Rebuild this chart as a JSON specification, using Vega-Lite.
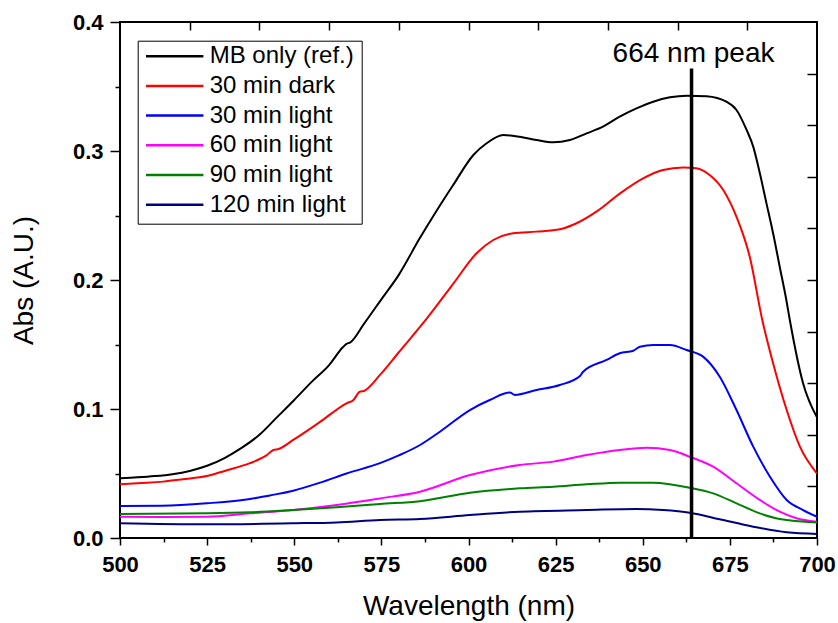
{
  "$schema": "https://vega.github.io/schema/vega-lite/v6.json",
  "width": 697,
  "height": 516,
  "autosize": {"type": "none"},
  "padding": {"left": 120, "top": 22, "right": 21, "bottom": 85},
  "background": "white",
  "config": {
    "view": {"stroke": "black", "strokeWidth": 2},
    "font": "Liberation Sans",
    "axis": {"domain": false, "grid": false, "tickColor": "black", "tickWidth": 1.5, "labelColor": "black", "titleColor": "black"}
  },
  "datasets": {
    "spectra": [
      {"s":"MB only (ref.)","w":500,"a":0.0463},{"s":"MB only (ref.)","w":505,"a":0.047},{"s":"MB only (ref.)","w":510,"a":0.048},{"s":"MB only (ref.)","w":515,"a":0.0495},{"s":"MB only (ref.)","w":520,"a":0.052},{"s":"MB only (ref.)","w":525,"a":0.056},{"s":"MB only (ref.)","w":530,"a":0.062},{"s":"MB only (ref.)","w":535,"a":0.07},{"s":"MB only (ref.)","w":540,"a":0.08},{"s":"MB only (ref.)","w":545,"a":0.0935},{"s":"MB only (ref.)","w":550,"a":0.107},{"s":"MB only (ref.)","w":555,"a":0.121},{"s":"MB only (ref.)","w":560,"a":0.134},{"s":"MB only (ref.)","w":564,"a":0.148},{"s":"MB only (ref.)","w":565,"a":0.1505},{"s":"MB only (ref.)","w":566,"a":0.1515},{"s":"MB only (ref.)","w":570,"a":0.166},{"s":"MB only (ref.)","w":575,"a":0.185},{"s":"MB only (ref.)","w":580,"a":0.204},{"s":"MB only (ref.)","w":586,"a":0.2323},{"s":"MB only (ref.)","w":590,"a":0.25},{"s":"MB only (ref.)","w":595.6,"a":0.2736},{"s":"MB only (ref.)","w":601.4,"a":0.2969},{"s":"MB only (ref.)","w":605.2,"a":0.306},{"s":"MB only (ref.)","w":610,"a":0.3124},{"s":"MB only (ref.)","w":614.7,"a":0.311},{"s":"MB only (ref.)","w":619.5,"a":0.3085},{"s":"MB only (ref.)","w":624.3,"a":0.3067},{"s":"MB only (ref.)","w":629.1,"a":0.3085},{"s":"MB only (ref.)","w":633.9,"a":0.3137},{"s":"MB only (ref.)","w":638.6,"a":0.3189},{"s":"MB only (ref.)","w":643.4,"a":0.3266},{"s":"MB only (ref.)","w":648.2,"a":0.333},{"s":"MB only (ref.)","w":653,"a":0.3382},{"s":"MB only (ref.)","w":657.8,"a":0.3416},{"s":"MB only (ref.)","w":662.6,"a":0.3429},{"s":"MB only (ref.)","w":668.3,"a":0.3424},{"s":"MB only (ref.)","w":674,"a":0.3382},{"s":"MB only (ref.)","w":676.9,"a":0.3318},{"s":"MB only (ref.)","w":679.8,"a":0.3163},{"s":"MB only (ref.)","w":681.7,"a":0.3034},{"s":"MB only (ref.)","w":683.6,"a":0.2827},{"s":"MB only (ref.)","w":685.5,"a":0.2594},{"s":"MB only (ref.)","w":687.4,"a":0.2362},{"s":"MB only (ref.)","w":689.3,"a":0.2103},{"s":"MB only (ref.)","w":691.2,"a":0.1845},{"s":"MB only (ref.)","w":692.2,"a":0.169},{"s":"MB only (ref.)","w":696,"a":0.12},{"s":"MB only (ref.)","w":700,"a":0.0935},
      {"s":"30 min dark","w":500,"a":0.0416},{"s":"30 min dark","w":505,"a":0.0425},{"s":"30 min dark","w":512.4,"a":0.0437},{"s":"30 min dark","w":518,"a":0.0455},{"s":"30 min dark","w":524.9,"a":0.048},{"s":"30 min dark","w":530,"a":0.052},{"s":"30 min dark","w":537.3,"a":0.058},{"s":"30 min dark","w":542,"a":0.064},{"s":"30 min dark","w":544,"a":0.0682},{"s":"30 min dark","w":545.5,"a":0.069},{"s":"30 min dark","w":549.7,"a":0.076},{"s":"30 min dark","w":557.4,"a":0.09},{"s":"30 min dark","w":565,"a":0.1044},{"s":"30 min dark","w":567,"a":0.107},{"s":"30 min dark","w":568.8,"a":0.1134},{"s":"30 min dark","w":570,"a":0.114},{"s":"30 min dark","w":574.6,"a":0.1264},{"s":"30 min dark","w":580,"a":0.144},{"s":"30 min dark","w":588,"a":0.17},{"s":"30 min dark","w":595.6,"a":0.197},{"s":"30 min dark","w":602.3,"a":0.2207},{"s":"30 min dark","w":607.1,"a":0.231},{"s":"30 min dark","w":612.8,"a":0.2362},{"s":"30 min dark","w":619.5,"a":0.2375},{"s":"30 min dark","w":626.2,"a":0.2393},{"s":"30 min dark","w":631,"a":0.244},{"s":"30 min dark","w":636.7,"a":0.253},{"s":"30 min dark","w":643.4,"a":0.267},{"s":"30 min dark","w":650.1,"a":0.2788},{"s":"30 min dark","w":655.8,"a":0.2853},{"s":"30 min dark","w":661.6,"a":0.2873},{"s":"30 min dark","w":665.4,"a":0.2866},{"s":"30 min dark","w":669.2,"a":0.2814},{"s":"30 min dark","w":673.1,"a":0.2698},{"s":"30 min dark","w":676.9,"a":0.249},{"s":"30 min dark","w":680.7,"a":0.218},{"s":"30 min dark","w":684.3,"a":0.169},{"s":"30 min dark","w":687.4,"a":0.1354},{"s":"30 min dark","w":691.3,"a":0.0992},{"s":"30 min dark","w":695.1,"a":0.0708},{"s":"30 min dark","w":700,"a":0.05},
      {"s":"30 min light","w":500,"a":0.0248},{"s":"30 min light","w":512,"a":0.025},{"s":"30 min light","w":524.9,"a":0.0269},{"s":"30 min light","w":537.3,"a":0.0302},{"s":"30 min light","w":543,"a":0.033},{"s":"30 min light","w":545,"a":0.034},{"s":"30 min light","w":549.7,"a":0.0367},{"s":"30 min light","w":557.4,"a":0.0429},{"s":"30 min light","w":565,"a":0.05},{"s":"30 min light","w":574.6,"a":0.058},{"s":"30 min light","w":580,"a":0.064},{"s":"30 min light","w":586.1,"a":0.0721},{"s":"30 min light","w":591.8,"a":0.0824},{"s":"30 min light","w":600.4,"a":0.0992},{"s":"30 min light","w":606.1,"a":0.107},{"s":"30 min light","w":611.9,"a":0.1127},{"s":"30 min light","w":613.3,"a":0.1109},{"s":"30 min light","w":619.5,"a":0.1147},{"s":"30 min light","w":626.2,"a":0.1186},{"s":"30 min light","w":632,"a":0.1256},{"s":"30 min light","w":632.9,"a":0.1289},{"s":"30 min light","w":639.6,"a":0.138},{"s":"30 min light","w":643.4,"a":0.1432},{"s":"30 min light","w":647.3,"a":0.1452},{"s":"30 min light","w":649.2,"a":0.1483},{"s":"30 min light","w":653,"a":0.1496},{"s":"30 min light","w":657.8,"a":0.1496},{"s":"30 min light","w":662.6,"a":0.1457},{"s":"30 min light","w":667.3,"a":0.1406},{"s":"30 min light","w":672.1,"a":0.125},{"s":"30 min light","w":676.9,"a":0.0992},{"s":"30 min light","w":681.7,"a":0.0708},{"s":"30 min light","w":686.5,"a":0.0475},{"s":"30 min light","w":691.3,"a":0.0295},{"s":"30 min light","w":696,"a":0.0217},{"s":"30 min light","w":700,"a":0.0165},
      {"s":"60 min light","w":500,"a":0.0165},{"s":"60 min light","w":512,"a":0.0163},{"s":"60 min light","w":524.9,"a":0.0165},{"s":"60 min light","w":537.3,"a":0.0191},{"s":"60 min light","w":549.7,"a":0.0217},{"s":"60 min light","w":562.2,"a":0.0256},{"s":"60 min light","w":574.6,"a":0.0307},{"s":"60 min light","w":586.1,"a":0.0359},{"s":"60 min light","w":600.4,"a":0.0488},{"s":"60 min light","w":614.7,"a":0.0566},{"s":"60 min light","w":624.3,"a":0.0592},{"s":"60 min light","w":633.9,"a":0.0643},{"s":"60 min light","w":643.4,"a":0.0682},{"s":"60 min light","w":651.1,"a":0.07},{"s":"60 min light","w":657.8,"a":0.0682},{"s":"60 min light","w":663.5,"a":0.063},{"s":"60 min light","w":670.2,"a":0.0553},{"s":"60 min light","w":676.9,"a":0.0424},{"s":"60 min light","w":683.6,"a":0.0295},{"s":"60 min light","w":689.3,"a":0.0204},{"s":"60 min light","w":694.1,"a":0.0153},{"s":"60 min light","w":700,"a":0.0126},
      {"s":"90 min light","w":500,"a":0.0186},{"s":"90 min light","w":524.9,"a":0.0191},{"s":"90 min light","w":537.3,"a":0.0199},{"s":"90 min light","w":549.7,"a":0.0217},{"s":"90 min light","w":562.2,"a":0.0238},{"s":"90 min light","w":574.6,"a":0.0264},{"s":"90 min light","w":586.1,"a":0.0285},{"s":"90 min light","w":600.4,"a":0.0351},{"s":"90 min light","w":614.7,"a":0.0385},{"s":"90 min light","w":624.3,"a":0.0398},{"s":"90 min light","w":633.9,"a":0.0416},{"s":"90 min light","w":643.4,"a":0.0429},{"s":"90 min light","w":653,"a":0.0429},{"s":"90 min light","w":663.5,"a":0.039},{"s":"90 min light","w":670.2,"a":0.0346},{"s":"90 min light","w":676.9,"a":0.0269},{"s":"90 min light","w":683.6,"a":0.0191},{"s":"90 min light","w":689.3,"a":0.0147},{"s":"90 min light","w":700,"a":0.0121},
      {"s":"120 min light","w":500,"a":0.0114},{"s":"120 min light","w":524.9,"a":0.0106},{"s":"120 min light","w":549.7,"a":0.0114},{"s":"120 min light","w":562.2,"a":0.0121},{"s":"120 min light","w":574.6,"a":0.014},{"s":"120 min light","w":586.1,"a":0.0147},{"s":"120 min light","w":600.4,"a":0.0178},{"s":"120 min light","w":614.7,"a":0.0204},{"s":"120 min light","w":633.9,"a":0.0217},{"s":"120 min light","w":648.2,"a":0.0225},{"s":"120 min light","w":655.8,"a":0.0217},{"s":"120 min light","w":663.5,"a":0.0196},{"s":"120 min light","w":672.1,"a":0.0145},{"s":"120 min light","w":681.7,"a":0.0088},{"s":"120 min light","w":691.3,"a":0.0044},{"s":"120 min light","w":700,"a":0.0031}
    ],
    "peak": [{"w": 664, "lo": 0, "hi": 0.364, "ty": 0.369, "label": "664 nm peak"}]
  },
  "resolve": {"axis": {"x": "independent", "y": "independent"}},
  "layer": [
    {
      "data": {"name": "spectra"},
      "mark": {"type": "line", "strokeWidth": 2, "interpolate": "monotone", "clip": true},
      "encoding": {
        "x": {"field": "w", "type": "quantitative", "scale": {"domain": [500, 700], "nice": false, "zero": false},
          "axis": {"orient": "bottom", "values": [500, 525, 550, 575, 600, 625, 650, 675, 700], "title": "Wavelength (nm)", "titleFont": "Liberation Sans", "titleFontSize": 28, "titleFontWeight": "normal", "titlePadding": 17, "labelFont": "Liberation Sans", "labelFontSize": 22, "labelFontWeight": "bold", "tickSize": 7, "labelPadding": 9, "labelFlush": false}},
        "y": {"field": "a", "type": "quantitative", "scale": {"domain": [0, 0.4], "nice": false},
          "axis": {"orient": "left", "values": [0, 0.1, 0.2, 0.3, 0.4], "format": ".1f", "title": "Abs (A.U.)", "titleFont": "Liberation Sans", "titleFontSize": 28, "titleFontWeight": "normal", "titlePadding": 34, "labelFont": "Liberation Sans", "labelFontSize": 22, "labelFontWeight": "bold", "tickSize": 10, "labelPadding": 7, "labelFlush": false}},
        "color": {"field": "s", "type": "nominal",
          "scale": {"domain": ["MB only (ref.)", "30 min dark", "30 min light", "60 min light", "90 min light", "120 min light"], "range": ["#000000", "#ff0000", "#0000ff", "#ff00ff", "#008000", "#000080"]},
          "legend": {"orient": "none", "legendX": 17.7, "legendY": 18.7, "title": null, "symbolType": "stroke", "symbolSize": 3300, "symbolStrokeWidth": 2.5, "labelFontSize": 24, "labelFont": "Liberation Sans", "labelColor": "black", "strokeColor": "black", "fillColor": "white", "padding": 7, "rowPadding": 4.7, "clipHeight": 17, "labelOffset": 5, "symbolOffset": 0, "labelLimit": 300}}
      }
    },
    {
      "data": {"name": "peak"},
      "mark": {"type": "rule", "strokeWidth": 3.5, "color": "black"},
      "encoding": {
        "x": {"field": "w", "type": "quantitative", "scale": {"domain": [500, 700], "nice": false, "zero": false},
          "axis": {"orient": "bottom", "values": [512.5, 537.5, 562.5, 587.5, 612.5, 637.5, 662.5, 687.5], "labels": false, "title": null, "tickSize": 4}},
        "y": {"field": "lo", "type": "quantitative", "scale": {"domain": [0, 0.4], "nice": false},
          "axis": {"orient": "left", "values": [0.05, 0.15, 0.25, 0.35], "labels": false, "title": null, "tickSize": 5}},
        "y2": {"field": "hi"}
      }
    },
    {
      "data": {"name": "peak"},
      "mark": {"type": "text", "font": "Liberation Sans", "fontSize": 28, "color": "black", "align": "center", "baseline": "alphabetic", "dx": 2},
      "encoding": {
        "x": {"field": "w", "type": "quantitative", "scale": {"domain": [500, 700], "nice": false, "zero": false},
          "axis": {"orient": "top", "values": [520, 540, 560, 580, 600, 620, 640, 660, 680], "labels": false, "title": null, "tickSize": -8}},
        "y": {"field": "ty", "type": "quantitative", "scale": {"domain": [0, 0.4], "nice": false},
          "axis": {"orient": "right", "values": [0.04, 0.08, 0.12, 0.16, 0.2, 0.24, 0.28, 0.32, 0.36], "labels": false, "title": null, "tickSize": -10}},
        "text": {"field": "label"}
      }
    }
  ]
}
